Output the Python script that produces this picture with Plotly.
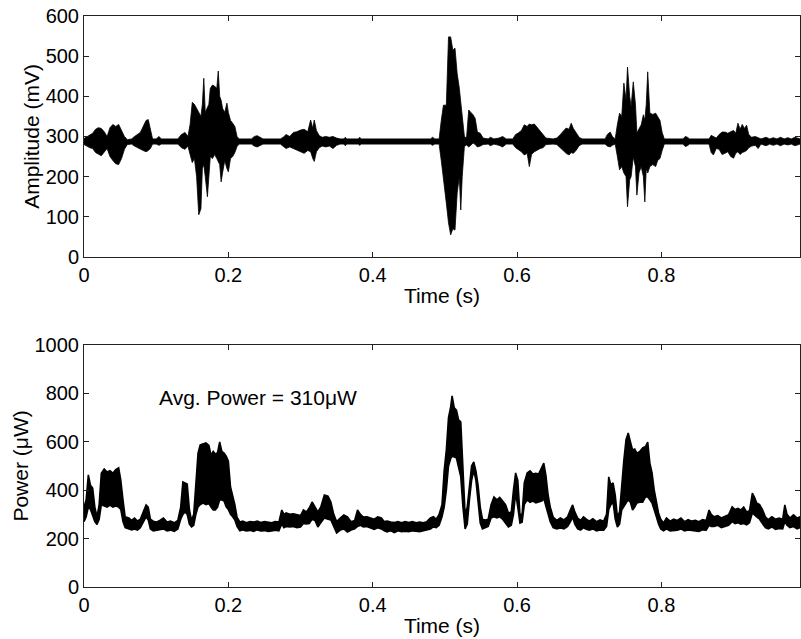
import plotly.graph_objects as go
from plotly.subplots import make_subplots

# ---------------- Top panel: amplitude envelope (time s, upper mV, lower mV) ----------------
amp_time = [0.000, 0.004, 0.008, 0.012, 0.016, 0.020, 0.024, 0.028, 0.032, 0.036, 0.040, 0.044, 0.048,
            0.052, 0.056, 0.060, 0.066, 0.070, 0.074, 0.078, 0.082, 0.086, 0.089, 0.092, 0.095, 0.100,
            0.104, 0.107, 0.130, 0.135, 0.140, 0.144, 0.147, 0.150, 0.153, 0.156, 0.159, 0.162, 0.164,
            0.166, 0.168, 0.171, 0.173, 0.175, 0.178, 0.181, 0.184, 0.186, 0.188, 0.190, 0.192, 0.195,
            0.198, 0.200, 0.203, 0.206, 0.209, 0.212, 0.215, 0.232, 0.236, 0.240, 0.244, 0.248, 0.272,
            0.276, 0.280, 0.285, 0.290, 0.295, 0.300, 0.305, 0.310, 0.314, 0.317, 0.319, 0.322, 0.326,
            0.330, 0.335, 0.340, 0.345, 0.350, 0.355, 0.360, 0.362, 0.364, 0.380, 0.382, 0.384, 0.480,
            0.483, 0.486, 0.492, 0.495, 0.498, 0.502, 0.505, 0.508, 0.511, 0.514, 0.517, 0.520, 0.522,
            0.524, 0.527, 0.530, 0.533, 0.536, 0.539, 0.542, 0.545, 0.549, 0.553, 0.560, 0.563, 0.568,
            0.575, 0.580, 0.585, 0.594, 0.598, 0.602, 0.606, 0.610, 0.614, 0.617, 0.620, 0.624, 0.628,
            0.632, 0.636, 0.640, 0.650, 0.655, 0.660, 0.664, 0.668, 0.672, 0.675, 0.678, 0.682, 0.686,
            0.690, 0.722, 0.725, 0.729, 0.732, 0.736, 0.739, 0.742, 0.745, 0.748, 0.751, 0.753, 0.756,
            0.758, 0.761, 0.764, 0.766, 0.769, 0.772, 0.775, 0.777, 0.779, 0.781, 0.784, 0.788, 0.792,
            0.795, 0.798, 0.801, 0.804, 0.830, 0.833, 0.836, 0.839, 0.866, 0.869, 0.872, 0.876, 0.880,
            0.884, 0.888, 0.892, 0.896, 0.900, 0.903, 0.906, 0.909, 0.912, 0.915, 0.918, 0.921, 0.925,
            0.930, 0.934, 0.938, 0.945, 0.950, 0.955, 0.960, 0.965, 0.970, 0.975, 0.980, 0.985, 0.992]
amp_upper = [295, 300, 305, 308, 318, 322, 320, 312, 300, 322, 330, 325, 330,
             315, 300, 292, 294, 300, 305, 310, 325, 340, 342, 318, 294, 294,
             300, 294, 294, 305, 310, 300, 330, 385, 380, 370, 360, 350, 380,
             445, 360, 370, 380, 420, 428, 425, 420, 463, 400, 390, 370, 360,
             383, 360, 340, 333, 325, 300, 294, 294, 300, 302, 298, 294, 294,
             298, 305, 300, 310, 312, 316, 318, 312, 341, 320, 341, 315, 302,
             298, 300, 298, 300, 296, 294, 294, 298, 294, 294, 298, 294, 294,
             298, 294, 294, 340, 378, 378, 548, 548, 515, 520, 457, 420, 383,
             360, 300, 296, 366, 360, 354, 345, 311, 308, 296, 294, 298, 294,
             296, 300, 294, 294, 305, 309, 315, 329, 325, 331, 329, 331, 322,
             315, 305, 296, 294, 296, 305, 312, 321, 318, 333, 320, 308, 298,
             294, 294, 305, 311, 300, 294, 330, 358, 350, 433, 390, 473, 400,
             374, 436, 380, 309, 320, 329, 354, 340, 380, 461, 358, 355, 358,
             349, 340, 310, 294, 294, 300, 298, 294, 294, 303, 300, 296, 305,
             311, 311, 308, 312, 315, 308, 333, 318, 330, 320, 328, 305, 298,
             300, 296, 294, 298, 294, 297, 294, 298, 294, 297, 294, 298, 294]
amp_lower = [280, 276, 272, 270, 260, 256, 252, 262, 270, 250, 240, 232, 230,
             245, 268, 280, 281, 276, 272, 268, 265, 262, 265, 270, 281, 281,
             278, 281, 281, 272, 268, 276, 255, 235, 245, 200, 105, 120, 220,
             230, 200, 150, 210, 250, 245, 255, 245, 240, 230, 187, 210, 240,
             220, 212, 245, 250, 260, 275, 281, 281, 276, 274, 278, 281, 281,
             276, 270, 274, 268, 265, 262, 258, 265, 262, 245, 238, 262, 272,
             276, 274, 276, 270, 278, 281, 281, 277, 281, 281, 278, 281, 281,
             278, 281, 281, 240, 200, 134, 85, 55, 70, 67, 159, 200, 117,
             200, 275, 279, 274, 278, 284, 280, 274, 276, 280, 281, 277, 281,
             278, 274, 281, 281, 272, 268, 262, 254, 258, 225, 255, 262, 266,
             270, 272, 280, 281, 280, 272, 265, 258, 254, 260, 258, 266, 277,
             281, 281, 276, 274, 278, 281, 250, 217, 225, 209, 200, 125, 192,
             200, 249, 225, 154, 210, 225, 200, 137, 220, 209, 225, 230, 225,
             241, 245, 265, 281, 281, 275, 277, 281, 281, 260, 254, 270, 268,
             255, 258, 262, 250, 246, 258, 262, 255, 260, 262, 265, 272, 276,
             278, 270, 281, 277, 281, 278, 281, 277, 281, 279, 281, 277, 281]

# ---------------- Bottom panel: power envelope (time s, upper µW, lower µW) ----------------
pow_time = [0.000, 0.003, 0.006, 0.009, 0.012, 0.015, 0.018, 0.021, 0.024, 0.028, 0.032, 0.036, 0.040,
            0.044, 0.048, 0.051, 0.054, 0.057, 0.062, 0.066, 0.070, 0.074, 0.078, 0.082, 0.086, 0.089,
            0.092, 0.096, 0.100, 0.105, 0.110, 0.115, 0.120, 0.125, 0.130, 0.134, 0.137, 0.140, 0.143,
            0.146, 0.149, 0.152, 0.155, 0.158, 0.161, 0.165, 0.169, 0.173, 0.176, 0.179, 0.182, 0.185,
            0.188, 0.191, 0.194, 0.197, 0.200, 0.203, 0.206, 0.209, 0.212, 0.216, 0.220, 0.225, 0.230,
            0.235, 0.240, 0.245, 0.250, 0.255, 0.260, 0.265, 0.270, 0.274, 0.277, 0.280, 0.285, 0.290,
            0.295, 0.300, 0.304, 0.308, 0.312, 0.316, 0.320, 0.324, 0.328, 0.333, 0.338, 0.342, 0.346,
            0.350, 0.355, 0.360, 0.365, 0.370, 0.375, 0.379, 0.383, 0.387, 0.392, 0.397, 0.402, 0.407,
            0.412, 0.416, 0.420, 0.425, 0.430, 0.435, 0.440, 0.445, 0.450, 0.455, 0.460, 0.465, 0.470,
            0.475, 0.480, 0.484, 0.488, 0.492, 0.496, 0.499, 0.502, 0.505, 0.508, 0.510, 0.513, 0.516,
            0.519, 0.522, 0.525, 0.528, 0.531, 0.534, 0.537, 0.540, 0.543, 0.546, 0.549, 0.552, 0.556,
            0.560, 0.564, 0.568, 0.572, 0.576, 0.580, 0.584, 0.588, 0.592, 0.595, 0.598, 0.601, 0.604,
            0.607, 0.610, 0.614, 0.618, 0.622, 0.626, 0.630, 0.634, 0.637, 0.640, 0.643, 0.646, 0.650,
            0.655, 0.660, 0.665, 0.670, 0.674, 0.677, 0.680, 0.684, 0.688, 0.692, 0.696, 0.700, 0.705,
            0.710, 0.715, 0.720, 0.724, 0.727, 0.730, 0.733, 0.736, 0.739, 0.742, 0.745, 0.748, 0.751,
            0.754, 0.757, 0.760, 0.763, 0.766, 0.770, 0.774, 0.778, 0.781, 0.784, 0.787, 0.790, 0.793,
            0.796, 0.799, 0.803, 0.807, 0.812, 0.817, 0.822, 0.827, 0.832, 0.837, 0.842, 0.847, 0.852,
            0.857, 0.862, 0.866, 0.869, 0.873, 0.878, 0.883, 0.888, 0.893, 0.898, 0.902, 0.906, 0.910,
            0.914, 0.918, 0.922, 0.926, 0.929, 0.932, 0.936, 0.940, 0.944, 0.948, 0.953, 0.958, 0.963,
            0.968, 0.971, 0.974, 0.978, 0.983, 0.988, 0.992]
pow_upper = [330, 360, 463, 420, 409, 330, 290, 340, 470, 487, 475, 480, 470,
             485, 492, 440, 360, 290, 285, 275, 285, 272, 280, 310, 339, 330,
             280, 272, 268, 275, 285, 268, 272, 265, 275, 330, 434, 430, 425,
             320, 275, 300, 450, 553, 587, 590, 595, 585, 545, 560, 549, 555,
             599, 560, 553, 540, 520, 413, 380, 340, 289, 268, 272, 265, 270,
             268, 272, 266, 270, 268, 265, 270, 268, 318, 300, 306, 300, 302,
             298, 295, 318, 310, 326, 351, 331, 310, 330, 380, 375, 351, 300,
             270, 285, 298, 290, 270, 275, 318, 300, 289, 290, 285, 280, 290,
             285, 270, 272, 268, 266, 270, 265, 270, 266, 270, 265, 268, 265,
             270, 285, 290, 280, 300, 340, 480, 566, 700, 744, 789, 740, 731,
             690, 682, 455, 300, 330, 420, 500, 517, 480, 420, 330, 280, 277,
             280, 340, 372, 360, 370, 355, 340, 306, 310, 400, 471, 440, 300,
             300, 430, 471, 480, 467, 470, 467, 490, 512, 460, 380, 330, 289,
             275, 285, 277, 290, 320, 339, 310, 285, 275, 290, 280, 272, 282,
             270, 277, 272, 300, 455, 420, 430, 380, 290, 310, 430, 525, 610,
             636, 600, 566, 570, 553, 560, 575, 580, 599, 512, 471, 401, 360,
             306, 280, 265, 285, 272, 280, 275, 285, 270, 278, 272, 275, 270,
             278, 275, 318, 300, 290, 295, 285, 290, 298, 331, 320, 325, 318,
             330, 310, 315, 388, 370, 347, 340, 320, 290, 278, 290, 280, 285,
             280, 339, 300, 285, 298, 285, 290]
pow_lower = [270, 290, 330, 320, 300, 270, 258, 280, 340, 335, 330, 338, 330,
             335, 330, 320, 270, 245, 240, 236, 240, 235, 245, 265, 290, 277,
             240, 232, 235, 238, 240, 232, 235, 230, 240, 280, 300, 310, 300,
             260, 248, 255, 300, 331, 340, 347, 340, 345, 330, 318, 318, 330,
             360, 360, 355, 331, 320, 300, 290, 277, 250, 232, 236, 232, 234,
             230, 236, 232, 233, 230, 232, 235, 232, 260, 245, 250, 248, 250,
             245, 248, 262, 260, 262, 280, 275, 248, 265, 285, 280, 277, 250,
             223, 235, 240, 227, 235, 240, 250, 255, 248, 250, 245, 238, 245,
             240, 232, 228, 232, 225, 232, 228, 230, 228, 232, 230, 228, 230,
             235, 240, 248, 245, 255, 290, 330, 400, 500, 530, 540, 537, 533,
             500, 455, 331, 240, 260, 360, 440, 483, 440, 360, 264, 240, 244,
             250, 285, 290, 285, 290, 280, 265, 248, 255, 300, 388, 330, 264,
             268, 340, 360, 350, 355, 347, 350, 355, 365, 340, 300, 270, 245,
             240, 244, 240, 250, 270, 289, 260, 240, 235, 245, 238, 235, 240,
             232, 236, 235, 250, 320, 340, 350, 280, 248, 260, 318, 330, 347,
             360, 350, 318, 330, 347, 350, 350, 372, 372, 360, 347, 320, 290,
             260, 240, 232, 240, 232, 235, 235, 240, 232, 236, 235, 232, 230,
             236, 235, 255, 250, 250, 255, 245, 250, 255, 270, 262, 265, 260,
             262, 257, 265, 306, 300, 290, 280, 262, 245, 240, 248, 238, 242,
             240, 270, 255, 245, 250, 240, 245]

x_ticks = [0, 0.2, 0.4, 0.6, 0.8]
x_tick_text = ["0", "0.2", "0.4", "0.6", "0.8"]
amp_ticks = [0, 100, 200, 300, 400, 500, 600]
pow_ticks = [0, 200, 400, 600, 800, 1000]


def envelope(t, up, lo):
    xs = list(t) + list(reversed(t)) + [t[0]]
    ys = list(up) + list(reversed(lo)) + [up[0]]
    return xs, ys


fig = make_subplots(rows=2, cols=1, vertical_spacing=0.154)

ax, ay = envelope(amp_time, amp_upper, amp_lower)
fig.add_trace(go.Scatter(x=ax, y=ay, mode="lines", fill="toself", fillcolor="black",
                         line=dict(color="black", width=0.8), showlegend=False,
                         hoverinfo="skip"), row=1, col=1)
px_, py_ = envelope(pow_time, pow_upper, pow_lower)
fig.add_trace(go.Scatter(x=px_, y=py_, mode="lines", fill="toself", fillcolor="black",
                         line=dict(color="black", width=1.6), showlegend=False,
                         hoverinfo="skip"), row=2, col=1)

tick_font = dict(family="Liberation Sans, Arial, sans-serif", size=20, color="black")
title_font = dict(family="Liberation Sans, Arial, sans-serif", size=21, color="black")
axis_common = dict(showline=True, linecolor="#222", linewidth=1, mirror="ticks",
                   ticks="inside", ticklen=5, tickcolor="#222", showgrid=False,
                   zeroline=False, tickfont=tick_font, automargin=False,
                   ticklabeloverflow="allow")

fig.update_xaxes(range=[0, 0.992], tickvals=x_ticks, ticktext=x_tick_text,
                 title=dict(text="Time (s)", font=title_font, standoff=3), **axis_common)
fig.update_yaxes(range=[0, 600], tickvals=amp_ticks,
                 title=dict(text="Amplitude (mV)", font=title_font, standoff=0),
                 row=1, col=1, **axis_common)
fig.update_yaxes(range=[0, 1000], tickvals=pow_ticks,
                 title=dict(text="Power (μW)", font=title_font, standoff=0),
                 row=2, col=1, **axis_common)

fig.update_layout(
    width=801, height=639,
    margin=dict(l=84, r=1, t=16, b=52, autoexpand=False),
    paper_bgcolor="white", plot_bgcolor="white",
    font=tick_font,
    annotations=[dict(x=0.101, y=781, xref="x2", yref="y2", text="Avg. Power = 310μW",
                      showarrow=False, xanchor="left", yanchor="middle", font=title_font)],
)
fig.update_yaxes(domain=[0.578, 1.0], row=1, col=1)
fig.update_yaxes(domain=[0.0, 0.424], row=2, col=1)

# Remove the browser's default page margin so the figure sits at the window's corner.
fig.write_html("out.html", config={"displayModeBar": False},
               post_script="document.body.style.margin='0';")
